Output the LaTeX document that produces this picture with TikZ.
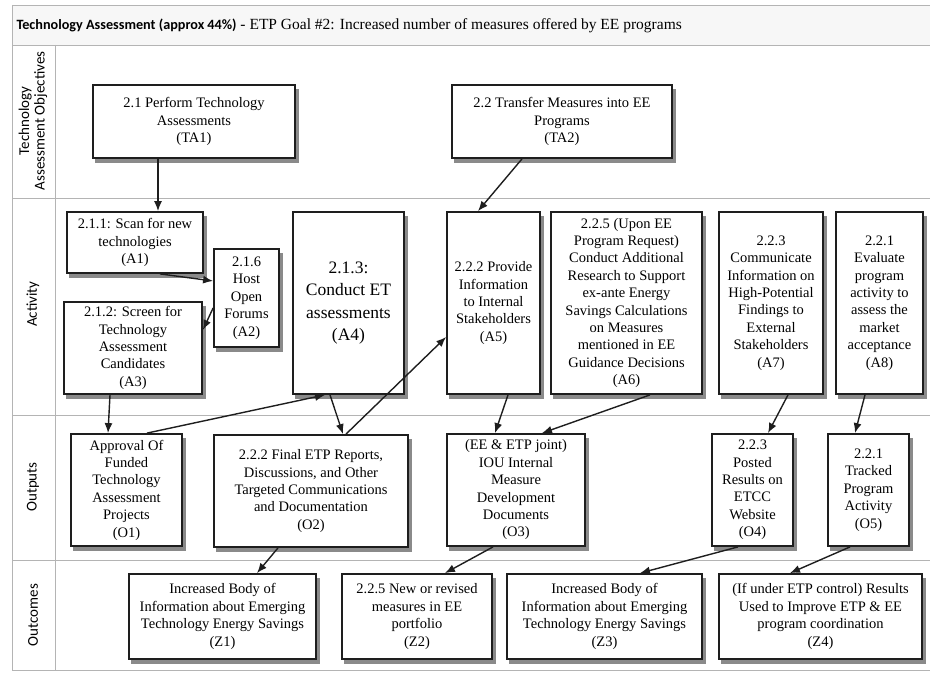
\documentclass[tikz,border=0pt]{standalone}
\usepackage{fontspec}
\setmainfont{Liberation Serif}
\newfontfamily\lanefont{Carlito}
\usetikzlibrary{arrows.meta,backgrounds}

\definecolor{laneline}{HTML}{B4B4B4}
\definecolor{titlefill}{HTML}{F7F7F7}
\definecolor{boxline}{HTML}{1E1E1E}
\definecolor{shadowgray}{HTML}{8A8A8A}

\begin{document}
\begin{tikzpicture}[x=1pt, y=-1pt,
        box/.style={draw=boxline, line width=1.8pt, fill=white, align=center,
            inner sep=0pt, font=\fontsize{14.5}{17.4}\selectfont},
        boxshadow/.style={fill=shadowgray},
        flow/.style={draw=boxline, line width=1.4pt, -{Latex[length=10pt,width=8pt]}},
        lane/.style={draw=laneline, line width=0.8pt},
        lanelabel/.style={rotate=90, align=center, font=\lanefont\fontsize{15}{15.5}\selectfont}]
        \useasboundingbox (0,0) rectangle (930,677);

        % -- frame and swim lanes ------------------------------------------------
        \fill[titlefill] (12,5) rectangle (930,45);
        \foreach \y in {5, 45, 198, 415, 560, 670} {
            \draw[lane] (12,\y) -- (930,\y);
        }
        \draw[lane] (12,5) -- (12,670);
        \draw[lane] (55,45) -- (55,670);

        % -- title and lane labels -----------------------------------------------
        \node[anchor=west, font=\fontsize{15.5}{17}\selectfont] (title) at (13,26)
            {{\lanefont\bfseries\fontsize{14.2}{17}\selectfont Technology Assessment (approx 44\%)} - ETP Goal \#2: Increased number of measures offered by EE programs};
        \foreach \name/\y/\lbl in {objectives/121/{Technology\\Assessment Objectives},
                activity/304/Activity, outputs/487/Outputs, outcomes/615/Outcomes} {
            \node[lanelabel] (\name) at (33,\y) {\lbl};
        }

        % -- objectives ----------------------------------------------------------
        \node[box, minimum width=202, minimum height=73] (TA1) at (194,121.5)
            {2.1 Perform Technology\\Assessments\\(TA1)};
        \node[box, minimum width=220, minimum height=73] (TA2) at (562,121.5)
            {2.2 Transfer Measures into EE\\Programs\\(TA2)};

        % -- activities ----------------------------------------------------------
        \node[box, minimum width=136, minimum height=61] (A1) at (135,242.5)
            {2.1.1: Scan for new\\technologies\\(A1)};
        \node[box, minimum width=65, minimum height=98] (A2) at (246.5,298)
            {2.1.6\\Host\\Open\\Forums\\(A2)};
        \node[box, minimum width=138, minimum height=92] (A3) at (133,348)
            {2.1.2: Screen for\\Technology\\Assessment\\Candidates\\(A3)};
        \node[box, minimum width=111, minimum height=182,
            font=\fontsize{17.5}{22.5}\selectfont] (A4) at (348.5,303)
            {2.1.3:\\Conduct ET\\assessments\\(A4)};
        \node[box, minimum width=93, minimum height=182] (A5) at (493.5,303)
            {2.2.2 Provide\\Information\\to Internal\\Stakeholders\\(A5)};
        \node[box, minimum width=151, minimum height=182] (A6) at (626.5,303)
            {2.2.5 (Upon EE\\Program Request)\\Conduct Additional\\Research to Support\\ex-ante Energy\\Savings Calculations\\on Measures\\mentioned in EE\\Guidance Decisions\\(A6)};
        \node[box, minimum width=104, minimum height=182] (A7) at (771,303)
            {2.2.3\\Communicate\\Information on\\High-Potential\\Findings to\\External\\Stakeholders\\(A7)};
        \node[box, minimum width=87, minimum height=182] (A8) at (879.5,303)
            {2.2.1\\Evaluate\\program\\activity to\\assess the\\market\\acceptance\\(A8)};

        % -- outputs -------------------------------------------------------------
        \node[box, minimum width=111, minimum height=112] (O1) at (126.5,490)
            {Approval Of\\Funded\\Technology\\Assessment\\Projects\\(O1)};
        \node[box, minimum width=194, minimum height=112] (O2) at (311,491)
            {2.2.2 Final ETP Reports,\\Discussions, and Other\\Targeted Communications\\and Documentation\\(O2)};
        \node[box, minimum width=138, minimum height=112] (O3) at (516,490)
            {(EE \& ETP joint)\\IOU Internal\\Measure\\Development\\Documents\\(O3)};
        \node[box, minimum width=81, minimum height=112] (O4) at (752.5,490)
            {2.2.3\\Posted\\Results on\\ETCC\\Website\\(O4)};
        \node[box, minimum width=81, minimum height=112] (O5) at (868.5,490)
            {2.2.1\\Tracked\\Program\\Activity\\(O5)};

        % -- outcomes ------------------------------------------------------------
        \node[box, minimum width=187, minimum height=85] (Z1) at (222.5,616.5)
            {Increased Body of\\Information about Emerging\\Technology Energy Savings\\(Z1)};
        \node[box, minimum width=150, minimum height=85] (Z2) at (417,616.5)
            {2.2.5 New or revised\\measures in EE\\portfolio\\(Z2)};
        \node[box, minimum width=195, minimum height=85] (Z3) at (604.5,616.5)
            {Increased Body of\\Information about Emerging\\Technology Energy Savings\\(Z3)};
        \node[box, minimum width=203, minimum height=85] (Z4) at (820.5,616.5)
            {(If under ETP control) Results\\Used to Improve ETP \& EE\\program coordination\\(Z4)};

        % -- shadows behind the boxes --------------------------------------------
        \begin{scope}[on background layer]
            \foreach \n in {TA1, TA2, A1, A2, A3, A4, A5, A6, A7, A8,
                    O1, O2, O3, O4, O5, Z1, Z2, Z3, Z4} {
                \fill[boxshadow] ([xshift=3pt, yshift=-4.5pt]\n.south west)
                    rectangle ([xshift=3pt, yshift=-4.5pt]\n.north east);
            }
        \end{scope}

        % -- connectors ----------------------------------------------------------
        \draw[flow] ([xshift=-36pt]TA1.south) -- ([xshift=23pt]A1.north);
        \draw[flow] ([xshift=-40pt]TA2.south) -- ([xshift=-15.5pt]A5.north);
        \draw[flow] ([xshift=25pt]A1.south) -- ([yshift=17pt]A2.west);
        \draw[flow] ([yshift=-10pt]A2.west) -- ([yshift=18pt]A3.east);
        \draw[flow] ([xshift=-23pt]A3.south) -- ([xshift=-18.5pt]O1.north);
        \draw[flow] ([xshift=20.5pt]O1.north) -- ([xshift=-23.5pt]A4.south);
        \draw[flow] ([xshift=-18.5pt]A4.south) -- ([xshift=32pt]O2.north);
        \draw[flow] ([xshift=35pt]O2.north) -- ([yshift=-34pt]A5.west);
        \draw[flow] ([xshift=14.5pt]A5.south) -- ([xshift=-21pt]O3.north);
        \draw[flow] ([xshift=23.5pt]A6.south) -- ([xshift=26pt]O3.north);
        \draw[flow] ([xshift=17pt]A7.south) -- ([xshift=15.5pt]O4.north);
        \draw[flow] ([xshift=-14.5pt]A8.south) -- ([xshift=-13.5pt]O5.north);
        \draw[flow] ([xshift=-33pt]O2.south) -- ([xshift=34.5pt]Z1.north);
        \draw[flow] ([xshift=-23pt]O3.south) -- ([xshift=28pt]Z2.north);
        \draw[flow] ([xshift=-14.5pt]O4.south) -- ([xshift=35.5pt]Z3.north);
        \draw[flow] ([xshift=-18.5pt]O5.south) -- ([xshift=-30.5pt]Z4.north);
    \end{tikzpicture}
\end{document}
